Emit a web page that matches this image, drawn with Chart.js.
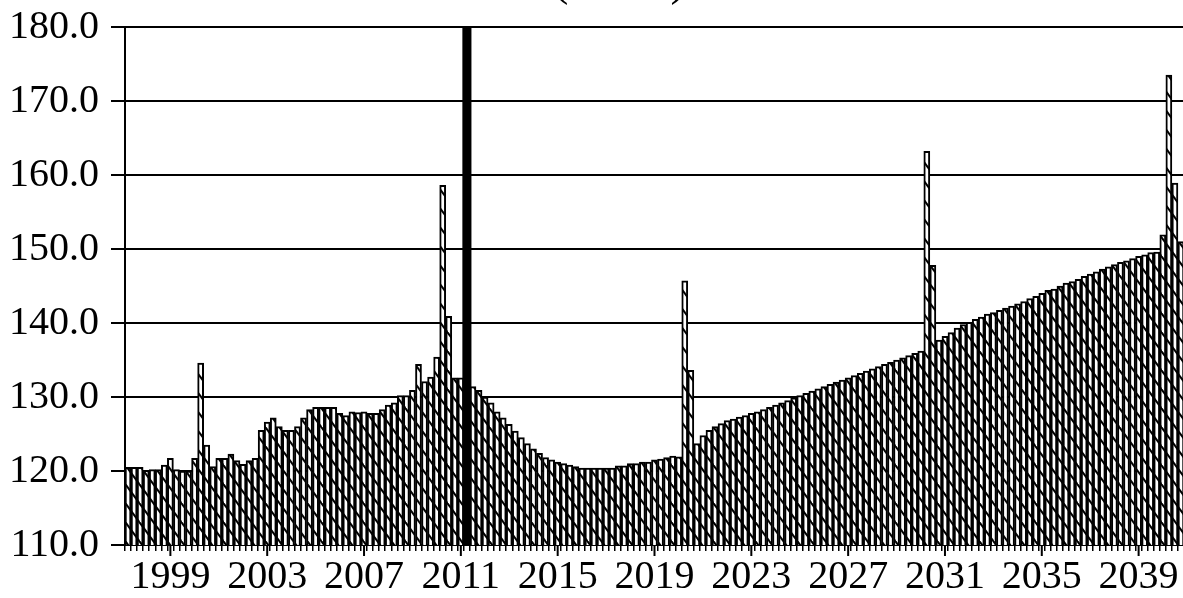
<!DOCTYPE html>
<html>
<head>
<meta charset="utf-8">
<script src="https://cdn.jsdelivr.net/npm/chart.js@4.4.1/dist/chart.umd.min.js"></script>
<style>
  html, body { margin:0; padding:0; background:#fff; overflow:hidden; }
  #wrap { position:relative; width:1183px; height:598px; overflow:hidden; }
  #title { position:absolute; left:553px; top:-43px; font:46px "Liberation Serif", serif; line-height:1; color:#000; white-space:nowrap; }
  canvas { position:absolute; left:0; top:-9px; }
</style>
</head>
<body>
<div id="wrap">
  <canvas id="chart" width="1190" height="607"></canvas>
  <div id="title">(index)</div>
</div>
<script>
// quarterly series, 1997Q2 .. 2040Q4
const startYear = 1997, startQuarter = 2;
const values = [
  120.5, 120.5, 120.5, 120.1, 120.2, 120.2, 120.8, 121.7, 120.2, 120.0,
  120.0, 121.7, 134.6, 123.5, 120.6, 121.7, 121.7, 122.3, 121.4, 120.9,
  121.4, 121.7, 125.5, 126.6, 127.2, 126.0, 125.5, 125.5, 126.0, 127.2,
  128.3, 128.6, 128.6, 128.6, 128.6, 127.8, 127.5, 128.0, 127.9, 128.0,
  127.8, 127.8, 128.3, 128.9, 129.2, 130.2, 130.2, 130.9, 134.4, 132.1,
  132.7, 135.4, 158.6, 140.9, 132.6, 132.6, null,  131.4, 130.9, 130.0,
  129.2, 128.0, 127.2, 126.3, 125.4, 124.5, 123.7, 123.0, 122.4, 121.8,
  121.5, 121.2, 121.0, 120.8, 120.6, 120.4, 120.4, 120.4, 120.4, 120.4,
  120.4, 120.7, 120.7, 121.0, 121.0, 121.2, 121.2, 121.5, 121.6, 121.8,
  122.0, 121.9, 145.7, 133.6, 123.7, 124.8, 125.5, 126.0, 126.4, 126.8,
  127.0, 127.3, 127.5, 127.8, 128.0, 128.3, 128.6, 128.9, 129.2, 129.5,
  129.9, 130.2, 130.5, 130.8, 131.1, 131.4, 131.7, 132.0, 132.3, 132.6,
  132.9, 133.2, 133.5, 133.8, 134.1, 134.4, 134.7, 135.0, 135.3, 135.6,
  135.9, 136.2, 163.2, 147.8, 137.7, 138.2, 138.7, 139.3, 139.8, 140.1,
  140.5, 140.8, 141.2, 141.4, 141.7, 142.0, 142.3, 142.6, 142.9, 143.3,
  143.6, 144.0, 144.4, 144.6, 145.0, 145.4, 145.6, 145.9, 146.3, 146.6,
  146.9, 147.3, 147.6, 147.9, 148.2, 148.4, 148.7, 149.0, 149.2, 149.5,
  149.6, 151.9, 173.5, 158.9, 151.0
];
// thick black divider bar
const markerQuarter = '2011Q2';
const markerValue = 180;
const tickYears = ['1999','2003','2007','2011','2015','2019','2023','2027','2031','2035','2039'];
const yMin = 110, yMax = 180, yStep = 10;

const quarters = [];
{
  let y = startYear, q = startQuarter;
  for (let i = 0; i < values.length; i++) {
    quarters.push(y + 'Q' + q);
    q++; if (q > 4) { q = 1; y++; }
  }
}
const showLabel = (i) => {
  const s = quarters[i];
  return s.endsWith('Q1') && tickYears.includes(s.slice(0,4)) ? s.slice(0,4) : '';
};

function hatch(){
  const w = 14, h = 19;
  const c = document.createElement('canvas');
  c.width = w; c.height = h;
  const g = c.getContext('2d');
  g.fillStyle = '#fff'; g.fillRect(0,0,w,h);
  g.strokeStyle = '#000'; g.lineWidth = 2;
  for (const k of [-1,0,1]) {
    g.beginPath();
    g.moveTo(-2 + k*w, -2*h/w);
    g.lineTo(w + 2 + k*w, h + 2*h/w);
    g.stroke();
  }
  return g.createPattern(c, 'repeat');
}

const serif = '"Liberation Serif", "Times New Roman", serif';

const majorTicks = {
  id:'majorTicks',
  afterDraw(chart){
    const s = chart.scales.x, ctx = chart.ctx;
    ctx.save();
    ctx.strokeStyle = '#000'; ctx.lineWidth = 2;
    quarters.forEach((q,i)=>{
      if (!showLabel(i)) return;
      const x = s.getPixelForTick(i);
      ctx.beginPath(); ctx.moveTo(x, s.top); ctx.lineTo(x, s.top + 11); ctx.stroke();
    });
    ctx.restore();
  }
};

new Chart(document.getElementById('chart'), {
  type:'bar',
  data:{
    labels:quarters,
    datasets:[
      {
        data:values,
        backgroundColor:hatch(),
        borderColor:'#000',
        borderWidth:2,
        barPercentage:1,
        categoryPercentage:1,
        order:2
      },
      {
        data:quarters.map(q => q === markerQuarter ? markerValue : null),
        backgroundColor:'#000',
        borderWidth:0,
        barPercentage:1.5,
        categoryPercentage:1,
        grouped:false,
        order:1
      }
    ]
  },
  options:{
    responsive:false,
    animation:false,
    layout:{padding:{top:19, right:6, left:0, bottom:0}},
    plugins:{legend:{display:false}, tooltip:{enabled:false}, title:{display:false}},
    scales:{
      x:{
        offset:true,
        grid:{display:true, drawOnChartArea:false, drawTicks:true, tickLength:6, color:'#000', lineWidth:1.5, offset:true},
        border:{display:true, color:'#000', width:2},
        ticks:{
          autoSkip:false, maxRotation:0, minRotation:0, padding:2,
          color:'#000', font:{family:serif, size:40},
          callback:(v,i)=>showLabel(i)
        },
        afterFit:(s)=>{ s.height = 53; }
      },
      y:{
        min:yMin, max:yMax,
        grid:{color:'#000', lineWidth:2, drawTicks:true, tickLength:14, tickColor:'#000'},
        border:{display:true, color:'#000', width:2},
        ticks:{stepSize:yStep, padding:12, color:'#000', font:{family:serif, size:40},
          callback:(v)=>Number(v).toFixed(1)},
        afterFit:(s)=>{ s.width = 125; }
      }
    }
  },
  plugins:[majorTicks]
});
</script>
</body>
</html>
